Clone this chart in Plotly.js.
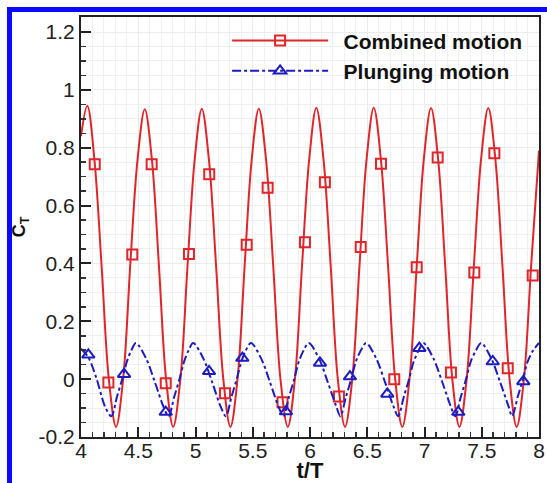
<!DOCTYPE html>
<html>
<head>
<meta charset="utf-8">
<script src="https://cdn.plot.ly/plotly-3.0.1.min.js"></script>
<style>
html,body{margin:0;padding:0;background:#fff;}
#wrap{position:relative;width:547px;height:483px;overflow:hidden;}
#chart{position:absolute;left:0;top:0;width:547px;height:483px;}
.bt{position:absolute;left:7px;top:7px;width:540px;height:5px;background:#0a0aff;}
.bl{position:absolute;left:7px;top:7px;width:5px;height:476px;background:#0a0aff;}
</style>
</head>
<body>
<div id="wrap">
<div id="chart"></div>
<div class="bt"></div>
<div class="bl"></div>
</div>
<script>
// Combined motion curve
const combinedT = [4.000,4.055,4.117,4.180,4.243,4.306,4.368,4.431,4.494,4.557,4.619,4.681,4.743,4.805,4.868,4.930,4.993,5.055,5.117,5.180,5.243,5.305,5.367,5.429,5.491,5.553,5.616,5.679,5.742,5.806,5.868,5.930,5.993,6.055,6.118,6.181,6.243,6.306,6.369,6.432,6.494,6.557,6.619,6.682,6.744,6.806,6.869,6.932,6.994,7.057,7.119,7.181,7.243,7.305,7.368,7.431,7.494,7.557,7.619,7.681,7.743,7.805,7.868,7.931,8.000];
const combinedCT = [0.84,0.945,0.76,0.39,0.0,-0.165,0.0,0.40,0.76,0.933,0.76,0.39,0.0,-0.165,0.0,0.39,0.76,0.935,0.76,0.39,0.0,-0.165,0.0,0.39,0.76,0.935,0.76,0.39,0.0,-0.165,0.0,0.39,0.76,0.938,0.76,0.39,0.0,-0.165,0.0,0.39,0.76,0.938,0.76,0.39,0.0,-0.165,0.0,0.39,0.76,0.937,0.76,0.39,0.0,-0.165,0.0,0.39,0.76,0.937,0.76,0.39,0.0,-0.165,0.0,0.39,0.79];
// Combined motion symbols
const combinedMarkT = [4.12,4.239,4.448,4.617,4.74,4.943,5.12,5.258,5.447,5.63,5.76,5.956,6.13,6.253,6.443,6.62,6.736,6.932,7.115,7.231,7.435,7.61,7.727,7.945];
const combinedMarkCT = [0.743,-0.012,0.431,0.743,-0.014,0.433,0.708,-0.049,0.465,0.662,-0.08,0.473,0.681,-0.06,0.457,0.745,0.0,0.387,0.766,0.023,0.369,0.781,0.038,0.358];
// Plunging motion curve
const plungingT = [4.000,4.065,4.137,4.210,4.265,4.315,4.360,4.400,4.440,4.480,4.570,4.645,4.720,4.765,4.815,4.860,4.900,4.940,4.980,5.070,5.145,5.220,5.265,5.315,5.360,5.400,5.440,5.485,5.575,5.650,5.725,5.767,5.817,5.862,5.902,5.945,5.990,6.080,6.155,6.230,6.265,6.315,6.360,6.400,6.445,6.490,6.580,6.655,6.730,6.770,6.820,6.865,6.905,6.950,6.990,7.080,7.155,7.230,7.268,7.318,7.363,7.403,7.450,7.495,7.585,7.660,7.735,7.765,7.815,7.860,7.900,7.950,8.000];
const plungingCT = [0.105,0.075,0.0,-0.095,-0.128,-0.06,0.0,0.06,0.10,0.125,0.07,-0.01,-0.095,-0.128,-0.06,0.0,0.06,0.10,0.125,0.07,-0.01,-0.095,-0.128,-0.06,0.0,0.06,0.10,0.125,0.07,-0.01,-0.095,-0.128,-0.06,0.0,0.06,0.10,0.125,0.07,-0.01,-0.095,-0.128,-0.06,0.0,0.06,0.10,0.125,0.07,-0.01,-0.095,-0.128,-0.06,0.0,0.06,0.10,0.125,0.07,-0.01,-0.095,-0.128,-0.06,0.0,0.06,0.10,0.125,0.07,-0.01,-0.095,-0.128,-0.06,0.0,0.06,0.10,0.125];
// Plunging motion symbols
const plungingMarkT = [4.064,4.376,4.74,5.118,5.409,5.79,6.087,6.349,6.675,6.955,7.295,7.596,7.863];
const plungingMarkCT = [0.084,0.017,-0.114,0.027,0.073,-0.112,0.056,0.009,-0.051,0.107,-0.114,0.061,-0.008];
const seriesNames = ['Combined motion','Plunging motion'];
const xTickVals = [4,4.5,5,5.5,6,6.5,7,7.5,8];
const xTickText = ['4','4.5','5','5.5','6','6.5','7','7.5','8'];
const yTickVals = [-0.2,0,0.2,0.4,0.6,0.8,1,1.2];
const yTickText = ['-0.2','0','0.2','0.4','0.6','0.8','1','1.2'];

const RED = '#e0262b';
const BLUE = '#1c1cc0';

const traces = [
  {x: combinedT, y: combinedCT, mode:'lines', line:{color:RED, width:2, shape:'spline', smoothing:1}, showlegend:false, hoverinfo:'skip'},
  {x: combinedMarkT, y: combinedMarkCT, mode:'markers', marker:{symbol:'square-open', size:10, color:RED, line:{width:2, color:RED}}, showlegend:false},
  {x: plungingT, y: plungingCT, mode:'lines', line:{color:BLUE, width:2, dash:'dashdot', shape:'spline', smoothing:0.9}, showlegend:false, hoverinfo:'skip'},
  {x: plungingMarkT, y: plungingMarkCT, mode:'markers', marker:{symbol:'triangle-up-open', size:11, color:BLUE, line:{width:2, color:BLUE}}, showlegend:false},
  {x:[null], y:[null], mode:'lines+markers', name:'\u2002<b>'+seriesNames[0]+'</b>', line:{color:RED, width:2}, marker:{symbol:'square-open', size:10, color:RED, line:{width:2,color:RED}}},
  {x:[null], y:[null], mode:'lines+markers', name:'\u2002<b>'+seriesNames[1]+'</b>', line:{color:BLUE, width:2, dash:'dashdot'}, marker:{symbol:'triangle-up-open', size:11, color:BLUE, line:{width:2,color:BLUE}}}
];

const axisCommon = {
  showline:true, linecolor:'#222', linewidth:2, mirror:true,
  ticks:'inside', ticklen:10, tickwidth:2, tickcolor:'#222',
  showgrid:true, gridcolor:'#ececec', gridwidth:1,
  zeroline:false,
  tickfont:{family:'Liberation Sans, Arial, sans-serif', size:21, color:'#222'}
};

const layout = {
  width:547, height:483,
  margin:{l:81, r:8, t:17, b:46, pad:0},
  paper_bgcolor:'#fff', plot_bgcolor:'#fff',
  showlegend:true,
  legend:{x:0.319, y:0.992, xanchor:'left', yanchor:'top', bgcolor:'rgba(0,0,0,0)', borderwidth:0,
          font:{family:'Liberation Sans, Arial, sans-serif', size:21, color:'#111'}, itemwidth:96, tracegroupgap:0},
  xaxis: Object.assign({}, axisCommon, {
    range:[4,8], tickmode:'array', tickvals:xTickVals, ticktext:xTickText, ticklabelstandoff:-6,
    minor:{dtick:0.1, ticks:'inside', ticklen:5, tickwidth:1.5, tickcolor:'#333', showgrid:true, gridcolor:'#f0f0f0', gridwidth:1},
    title:{text:'<b>t/T</b>', font:{family:'Liberation Sans, Arial, sans-serif', size:22, color:'#111'}, standoff:4}
  }),
  yaxis: Object.assign({}, axisCommon, {
    range:[-0.2,1.252], tickmode:'array', tickvals:yTickVals, ticktext:yTickText,
    minor:{dtick:0.05, ticks:'inside', ticklen:5, tickwidth:1.5, tickcolor:'#333', showgrid:true, gridcolor:'#f0f0f0', gridwidth:1},
    title:{text:'<b>C<sub>T</sub></b>', font:{family:'Liberation Sans, Arial, sans-serif', size:18, color:'#111'}, standoff:8}
  })
};
layout.xaxis.automargin = false;
layout.yaxis.automargin = false;

Plotly.newPlot('chart', traces, layout, {displayModeBar:false, staticPlot:true});
</script>
</body>
</html>
